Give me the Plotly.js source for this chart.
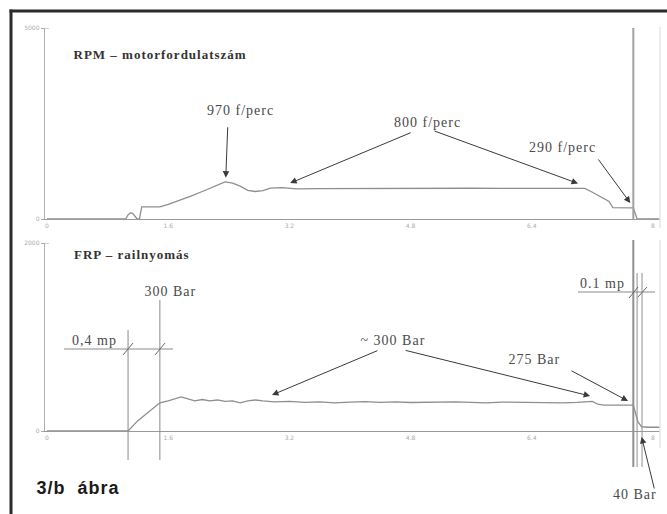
<!DOCTYPE html>
<html>
<head>
<meta charset="utf-8">
<script src="https://cdn.plot.ly/plotly-3.0.1.min.js"></script>
<style>html,body{margin:0;padding:0;background:#fff;}#chart{width:667px;height:514px;}
#chart text.annotation-text{letter-spacing:1px;}</style>
</head>
<body>
<div id="chart"></div>
<script>
// ---- data (time in seconds) ----
const rpmTime = [0, 1.04, 1.07, 1.10, 1.13, 1.16, 1.19, 1.22, 1.25, 1.35, 1.45, 1.49, 1.6, 1.75, 1.9, 2.05, 2.2, 2.35, 2.45, 2.55, 2.65, 2.75, 2.85, 2.95, 3.1, 3.3, 3.6, 4.0, 4.4, 4.8, 5.2, 5.6, 6.0, 6.4, 6.8, 7.1, 7.2, 7.3, 7.37, 7.42, 7.47, 7.6, 7.74, 7.79, 8.09];
const rpmValue = [0, 0, 110, 160, 150, 60, 0, 0, 315, 320, 310, 320, 380, 480, 600, 720, 850, 970, 940, 860, 750, 720, 740, 810, 820, 790, 795, 800, 805, 800, 800, 805, 800, 800, 805, 800, 700, 590, 520, 460, 300, 295, 290, 0, 0];

const frpTime = [0, 1.07, 1.2, 1.35, 1.49, 1.6, 1.7, 1.77, 1.85, 1.95, 2.05, 2.15, 2.25, 2.35, 2.45, 2.55, 2.65, 2.75, 2.85, 3.0, 3.2, 3.4, 3.6, 3.8, 4.0, 4.2, 4.4, 4.6, 4.8, 5.0, 5.2, 5.4, 5.6, 5.8, 6.0, 6.2, 6.4, 6.6, 6.8, 7.0, 7.2, 7.27, 7.35, 7.5, 7.74, 7.8, 7.85, 7.95, 8.09];
const frpValue = [0, 0, 110, 210, 300, 320, 345, 362, 345, 320, 335, 320, 330, 315, 320, 300, 320, 330, 320, 310, 315, 305, 310, 300, 308, 312, 305, 310, 303, 308, 305, 310, 305, 300, 308, 305, 310, 305, 300, 305, 315, 285, 275, 275, 275, 100, 45, 40, 40];

const xTickVals = [0, 1.6, 3.2, 4.8, 6.4, 8];
const xTickText = ['0', '1.6', '3.2', '4.8', '6.4', '8'];
const rpmTicks = [0, 5000];
const frpTicks = [0, 2000];

const rpmTitle = 'RPM – motorfordulatszám';
const frpTitle = 'FRP – railnyomás';
const figLabel = '3/b&nbsp;&nbsp;ábra';

// annotated points: [time, value]
const rpmPeak = [2.36, 1080];
const rpmSteadyA = [3.21, 940];
const rpmSteadyB = [7.01, 930];
const rpmEnd = [7.70, 420];
const frpSteadyA = [2.97, 383];
const frpSteadyB = [7.17, 372];
const frpEnd = [7.67, 319];
const frpAfterTime = 7.85;

// measuring cursors (time)
const startCursor = 1.07, riseCursor = 1.49;
const stopCursorA = 7.74, stopCursorB = 7.79, stopCursorC = 7.855;

// ---- helpers (pixel -> paper) ----
const W = 667, H = 514;
const px = x => x / W;
const py = y => 1 - y / H;

const lineGray = '#8e8e8e';
const textGray = '#4a4a4a';
const serif = 'Liberation Serif, Times New Roman, serif';

const traces = [
  {x: rpmTime, y: rpmValue, xaxis: 'x', yaxis: 'y', mode: 'lines', line: {color: lineGray, width: 1.3}, hoverinfo: 'skip'},
  {x: frpTime, y: frpValue, xaxis: 'x2', yaxis: 'y2', mode: 'lines', line: {color: lineGray, width: 1.3}, hoverinfo: 'skip'}
];

const xr = [-2 / 75.75, 613 / 75.75];
const axX = (anchor) => ({
  domain: [px(45), px(660)], range: xr, anchor: anchor,
  tickvals: xTickVals, ticktext: xTickText, ticks: '', showgrid: false, zeroline: false,
  showline: true, linecolor: '#9a9a9a', linewidth: 1.3,
  tickfont: {size: 6, color: '#aaa', family: 'DejaVu Sans'}, fixedrange: true
});
const axY = (dom, rng, tv, anchor) => ({
  domain: dom, range: rng, anchor: anchor, tickvals: tv, ticks: 'outside', ticklen: 3, tickcolor: '#aaa',
  showgrid: false, zeroline: false, showline: true, linecolor: '#b0b0b0', linewidth: 1.3,
  tickfont: {size: 6, color: '#aaa', family: 'DejaVu Sans'}, fixedrange: true
});

const shapes = [];
const L = (o) => shapes.push(Object.assign({type: 'line', layer: 'above'}, o));
// outer frame
L({xref: 'paper', yref: 'paper', x0: px(11), x1: px(11), y0: py(9.5), y1: 0, line: {color: '#2b2b2b', width: 3}});
L({xref: 'paper', yref: 'paper', x0: px(9.5), x1: 1, y0: py(11), y1: py(11), line: {color: '#2b2b2b', width: 3}});
// right light edges
L({xref: 'paper', yref: 'paper', x0: px(660), x1: px(660), y0: py(27), y1: py(228), line: {color: '#e6e6e6', width: 1.5}});
L({xref: 'paper', yref: 'paper', x0: px(660), x1: px(660), y0: py(240), y1: py(448), line: {color: '#e6e6e6', width: 1.5}});
// top ticks of y axes (T shape)
L({xref: 'paper', yref: 'y', x0: px(42), x1: px(49), y0: 5000, y1: 5000, line: {color: '#aaa', width: 1}});
L({xref: 'paper', yref: 'y2', x0: px(42), x1: px(49), y0: 2000, y1: 2000, line: {color: '#aaa', width: 1}});
// top cursor
L({xref: 'x', yref: 'paper', x0: stopCursorA, x1: stopCursorA, y0: py(28), y1: py(219), line: {color: '#a0a0a0', width: 2}});
// bottom cursors
L({xref: 'x2', yref: 'paper', x0: startCursor, x1: startCursor, y0: py(330), y1: py(460), line: {color: '#8a8a8a', width: 1}});
L({xref: 'x2', yref: 'paper', x0: riseCursor, x1: riseCursor, y0: py(300), y1: py(460), line: {color: '#8a8a8a', width: 1}});
L({xref: 'paper', yref: 'paper', x0: px(64), x1: px(173), y0: py(349), y1: py(349), line: {color: '#8a8a8a', width: 1}});
L({xref: 'paper', yref: 'paper', x0: px(123), x1: px(133), y0: py(355), y1: py(343), line: {color: '#666', width: 1}});
L({xref: 'paper', yref: 'paper', x0: px(155), x1: px(165), y0: py(355), y1: py(343), line: {color: '#666', width: 1}});
L({xref: 'x2', yref: 'paper', x0: stopCursorA, x1: stopCursorA, y0: py(240), y1: py(467), line: {color: '#909090', width: 2}});
L({xref: 'x2', yref: 'paper', x0: stopCursorB, x1: stopCursorB, y0: py(273), y1: py(467), line: {color: '#909090', width: 1}});
L({xref: 'x2', yref: 'paper', x0: stopCursorC, x1: stopCursorC, y0: py(273), y1: py(467), line: {color: '#909090', width: 1}});
L({xref: 'paper', yref: 'paper', x0: px(578), x1: px(655), y0: py(292), y1: py(292), line: {color: '#8a8a8a', width: 1}});
L({xref: 'paper', yref: 'paper', x0: px(629), x1: px(638), y0: py(298), y1: py(287), line: {color: '#666', width: 1}});
L({xref: 'paper', yref: 'paper', x0: px(638), x1: px(647), y0: py(297), y1: py(287), line: {color: '#666', width: 1}});

const ann = [];
const T = (x, y, text, size, opts) => ann.push(Object.assign({xref: 'paper', yref: 'paper', x: px(x), y: py(y), text: text, showarrow: false,
  xanchor: 'center', yanchor: 'middle', font: {family: serif, size: size, color: textGray}}, opts || {}));
const A = (xa, ya, pt, ax, ay) => ann.push({xref: xa, yref: ya, x: pt[0], y: pt[1], ax: ax, ay: ay, text: '', showarrow: true,
  arrowhead: 2, arrowsize: 1.3, arrowwidth: 1, arrowcolor: '#3a3a3a'});

T(83, 55, '<b>' + rpmTitle + '</b>', 13, {xanchor: 'left', font: {family: serif, size: 13, color: '#333'}});
T(80, 254, '<b>' + frpTitle + '</b>', 13, {xanchor: 'left', font: {family: serif, size: 13, color: '#333'}});
T(240, 110, '970 f/perc', 14);
T(427, 122, '800 f/perc', 14);
T(562, 147, '290 f/perc', 14);
T(94, 340, '0,4 mp', 14);
T(170, 291, '300 Bar', 14);
T(602, 283, '0.1 mp', 14);
T(393, 340, '~ 300 Bar', 14);
T(534, 359, '275 Bar', 14);
T(635, 494, '40 Bar', 14);
T(39, 488, '<b>' + figLabel + '</b>', 18, {xanchor: 'left', font: {family: 'Liberation Sans, Arial, sans-serif', size: 18, color: '#1a1a1a'}});

A('x', 'y', rpmPeak, 2, -52);
A('x', 'y', rpmSteadyA, 122, -51);
A('x', 'y', rpmSteadyB, -145, -53);
A('x', 'y', rpmEnd, -33, -45);
A('x2', 'y2', frpSteadyA, 107, -45);
A('x2', 'y2', frpSteadyB, -186, -46);
A('x2', 'y2', frpEnd, -58, -31);
A('x2', 'paper', [frpAfterTime, py(437)], 13, 53);

const layout = {
  width: W, height: H, margin: {l: 0, r: 0, t: 0, b: 0},
  paper_bgcolor: '#fff', plot_bgcolor: 'rgba(0,0,0,0)', showlegend: false,
  xaxis: axX('y'), yaxis: axY([py(219), py(28)], [0, 5000], rpmTicks, 'x'),
  xaxis2: axX('y2'), yaxis2: axY([py(431), py(243)], [0, 2000], frpTicks, 'x2'),
  shapes: shapes, annotations: ann
};
Plotly.newPlot('chart', traces, layout, {staticPlot: true, displayModeBar: false});
</script>
</body>
</html>
